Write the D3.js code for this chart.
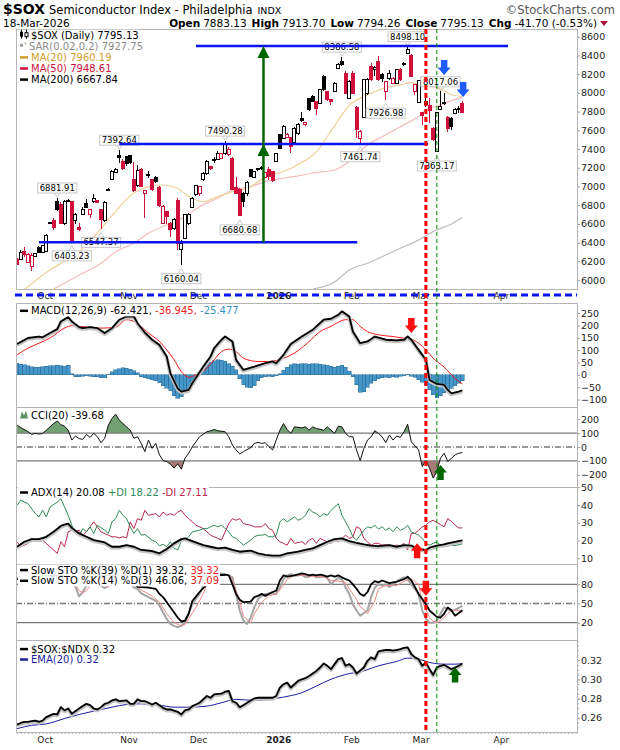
<!DOCTYPE html>
<html>
<head>
<meta charset="utf-8">
<script src="https://cdn.jsdelivr.net/npm/d3@7"></script>
<style>
  body { margin: 0; background: #fff; }
  svg { display: block; font-family: "DejaVu Sans", Verdana, sans-serif; }
</style>
</head>
<body>
<div id="chart"></div>
<script>
// ---- daily OHLC, 22-Sep-2025 .. 18-Mar-2026 (trading day index 0..122)
const openP = [6222,6222,6304,6190,6144,6255,6350,6295,6305,6610, 6635,6838,6810,6600,6850,6838,6636,6560,6706,6820,
  6706,6835,6850,6749,6636,6970,7070,7148,7330,7265, 7320,7326,7070,7006,7183,6927,7130,7070,7100,6991,
  6607,6730,6607,6553,6849,6330,6447,6600,6778,6910, 6920,7070,7134,7212,7290,7290,7300,7354,7337,7300,
  6991,6965,6928,6920,7177,7099,7195,7205,7099,7184, 7159,7266,7550,7515,7526,7526,7469,7561,7729,7662,
  7942,7960,7906,7889,8174,8013,7924,8013,8262,8334, 8209,7942,8209,7846,7515,7739,7990,8285,8245,8334,
  8200,8013,8156,8102,8102,8245,8298,8423,8395,8013, 7896,7789,7871,7860,7622,7373,7825,7900,7739,7729,
  7782,7835,7883.13];
const highP = [6233,6322,6358,6290,6285,6290,6360,6375,6490,6625, 6660,6882,6830,6860,6870,6845,6720,6607,6778,6863,
  6760,6917,6860,6760,6840,6985,7175,7200,7393,7290, 7330,7335,7265,7230,7200,6960,7160,7080,7110,7000,
  6800,6740,6620,6660,6874,6430,6700,6715,6890,7020, 7010,7150,7280,7220,7320,7380,7360,7490,7420,7320,
  7100,6980,6940,7060,7185,7170,7200,7215,7150,7212, 7170,7360,7560,7660,7570,7530,7640,7680,7800,7690,
  7950,7975,7915,8045,8190,8020,7930,8115,8320,8387, 8230,8140,8230,7860,7600,8150,8160,8320,8290,8390,
  8210,8130,8240,8170,8260,8270,8330,8498,8410,8095, 8140,7800,7940,7942,7630,7800,8017,7995,7750,7740,
  7835,7860,7913.70];
const lowP = [6160,6215,6250,6180,6100,6245,6285,6290,6300,6600, 6536,6740,6600,6590,6830,6403,6600,6528,6696,6767,
  6660,6828,6820,6547,6625,6955,7065,7140,7250,7180, 7220,7240,6945,6990,6990,6660,7090,6950,7040,6780,
  6600,6600,6464,6540,6322,6160,6440,6590,6770,6900, 6900,7060,7125,7180,7250,7280,7290,7340,7330,6960,
  6920,6681,6780,6900,7100,7090,7170,7180,7090,7070, 7050,7260,7400,7505,7520,7355,7460,7550,7693,7650,
  7810,7900,7764,7880,8020,7915,7870,8005,8255,8290, 7990,7930,7990,7515,7462,7730,7980,8130,8180,8130,
  8120,7927,8140,8090,8090,8130,8290,8415,8165,7978, 7890,7660,7850,7675,7490,7363,7818,7871,7586,7604,
  7770,7790,7794.26];
const closeP = [6172,6300,6278,6275,6268,6285,6290,6365,6480,6605, 6565,6750,6607,6838,6845,6410,6696,6542,6749,6778,
  6756,6867,6828,6642,6828,6958,7160,7183,7310,7195, 7250,7255,6956,7176,6998,6956,7120,6963,7050,6792,
  6785,6678,6536,6650,6386,6390,6696,6705,6874,7006, 7000,7134,7265,7190,7280,7354,7348,7460,7390,6970,
  6930,6690,6840,7042,7106,7159,7177,7190,7148,7106, 7063,7348,7408,7640,7558,7426,7622,7657,7704,7686,
  7818,7906,7835,8031,8035,7924,7907,8102,8298,8300, 7996,8120,7996,7604,7586,8138,8145,8140,8273,8138,
  8150,8120,8209,8156,8245,8138,8316,8458,8174,8085, 8131,7754,7907,7810,7497,7789,7853,7890,7622,7640,
  7825,7828,7795.13];

// moving averages: [day index, value]
const ma20 = [[2,5900],[9,6108],[14,6225],[18,6340],[23,6550],[27,6735],[32,6930],[36,6995],[40,7016],[44,6978],
  [47,6895],[51,6838],[55,6892],[59,6945],[64,7000],[68,7100],[73,7160],[77,7235],[82,7370],[87,7650],[91,7865],
  [96,7977],[100,8045],[105,8085],[108,8109],[110,8090],[114,8066],[117,8024],[119,7980],[122,7960]];
const ma50 = [[10,5905],[18,6073],[23,6180],[27,6304],[32,6393],[36,6500],[41,6589],[46,6678],[50,6785],[55,6874],
  [59,6963],[64,6998],[68,7052],[73,7088],[78,7120],[82,7150],[87,7176],[91,7266],[96,7444],[100,7532],[105,7639],
  [110,7750],[112,7817],[116,7871],[119,7917],[122,7949]];
const ma200 = [[81,5905],[87,5980],[91,6108],[96,6180],[100,6250],[105,6340],[110,6429],[114,6518],[119,6600],[122,6668]];

// MACD(12,26,9)
const macdLine = [[0,125],[3,149],[6,155],[7,152],[9,169],[11,185],[12,216],[14,234],[15,216],[17,193],[18,189],[20,193],
  [22,189],[24,169],[26,189],[28,223],[30,236],[32,236],[33,209],[35,171],[37,142],[39,121],[41,74],[42,6],[44,-55],
  [45,-68],[47,-61],[48,-34],[51,33],[53,74],[54,108],[56,142],[57,155],[59,135],[60,60],[62,20],[65,33],[68,47],
  [70,54],[71,47],[73,81],[75,125],[78,155],[81,182],[82,196],[84,223],[86,227],[88,243],[89,257],[91,236],[92,175],
  [94,128],[96,135],[98,155],[101,142],[104,139],[106,142],[107,155],[108,142],[110,101],[112,61],[113,-21],[115,-37],
  [117,-41],[118,-61],[119,-75],[121,-68],[122,-62.4]];
const macdSignal = [[0,81],[3,108],[6,128],[9,149],[13,189],[15,199],[17,196],[20,193],[23,189],[27,193],[30,223],
  [32,216],[34,196],[36,169],[39,135],[41,101],[43,61],[45,13],[47,-10],[49,0],[52,27],[54,61],[56,94],[58,104],
  [60,94],[62,67],[66,54],[69,54],[71,58],[73,67],[77,98],[80,135],[83,175],[86,196],[90,223],[92,223],[94,196],
  [96,175],[99,162],[103,155],[106,148],[108,144],[110,128],[112,101],[114,67],[117,31],[119,0],[121,-27],[122,-36.9]];
const macdHist = [47,43,40,36,32,30,30,33,34,36, 37,39,36,34,39,4,-7,-7,-5,-4, -6,-7,-8,-11,-12,3,12,20,25,28,
  26,22,17,8,-8,-12,-16,-19,-25,-32, -45,-55,-65,-85,-95,-88,-72,-58,-40,-15, 10,30,40,50,56,60,58,55,45,35,
  20,-15,-40,-50,-52,-45,-25,-12,-8,-5, -7,-3,5,18,30,40,44,42,44,45, 42,45,44,42,40,38,35,30,35,38,
  30,15,-8,-40,-70,-68,-50,-35,-25,-15, -12,-10,-11,-8,-10,-6,-4,3,-5,-10, -20,-30,-42,-60,-80,-92,-85,-72,-60,-55,
  -45,-35,-25];

// CCI(20)
const cci = [[0,157],[1,140],[3,110],[4,90],[5,98],[6,93],[7,98],[8,121],[9,145],[10,169],[11,188],[12,160],[13,150],
  [14,120],[15,50],[16,79],[17,60],[18,55],[19,90],[20,69],[21,98],[22,74],[23,31],[24,62],[25,157],[26,205],[27,236],
  [28,193],[30,145],[31,121],[32,62],[33,74],[34,26],[35,-33],[36,50],[37,-10],[38,26],[39,-57],[40,-98],[41,-105],
  [42,-124],[43,-152],[44,-121],[45,-160],[46,-81],[47,-45],[48,2],[49,38],[50,74],[52,110],[53,117],[54,126],
  [55,117],[57,110],[58,74],[59,14],[60,-21],[61,-50],[62,-33],[64,-5],[65,26],[66,33],[67,26],[68,31],[69,2],
  [70,-21],[71,50],[72,121],[73,169],[74,126],[75,98],[76,145],[78,138],[79,145],[80,121],[81,145],[82,133],[84,121],
  [85,145],[86,121],[87,98],[88,150],[89,145],[90,98],[91,74],[92,74],[93,-21],[94,-98],[95,-10],[96,50],[97,74],
  [98,117],[99,98],[100,74],[101,31],[102,86],[103,50],[104,79],[105,69],[106,110],[107,164],[108,38],[110,-21],
  [111,-140],[112,-98],[113,-152],[114,-224],[115,-176],[116,-81],[117,-45],[118,-105],[119,-81],[120,-57],[121,-45],
  [122,-39.7]];

// ADX(14), +DI, -DI
const adx = [[0,16.5],[2,19.3],[4,20.8],[6,20.8],[8,22.1],[10,24.9],[12,28.2],[13,29],[14,29.5],[15,27.1],[17,24],
  [19,22.1],[21,20.2],[24,18.9],[26,16.5],[28,16.5],[30,17.4],[32,16.5],[34,14.7],[37,14.1],[39,12.8],[41,15.2],
  [43,18.4],[45,20.8],[46,21.2],[48,19.7],[51,17.4],[53,16.5],[55,15.6],[57,16],[59,14.7],[61,13.7],[64,14.3],
  [66,12.8],[68,11.9],[70,11.5],[72,11.5],[74,12.8],[77,13.7],[79,14.7],[81,15.6],[83,17.4],[85,19.3],[87,20.8],
  [89,21.2],[91,19.7],[93,18.7],[95,17.8],[97,17.1],[99,16.9],[102,17.4],[104,16.5],[106,17.4],[108,17.1],[110,15.2],
  [112,14.7],[113,16],[115,17.1],[117,17.8],[118,18.4],[120,19.3],[122,20.1]];
const plusDI = [[0,39.8],[1,42.6],[3,40.7],[5,35.1],[6,33.3],[7,37],[8,33.3],[9,38.8],[11,41.6],[12,43.5],[13,38.8],
  [14,34.2],[15,28.6],[16,24],[17,23],[18,26.7],[19,24.9],[20,27.7],[21,24],[22,28.6],[24,25.8],[25,24],[26,30.5],
  [27,32.3],[28,37],[29,34.2],[30,32.3],[31,27.7],[32,24],[33,26.7],[34,23],[35,23.4],[37,20.2],[38,19.3],[39,17.1],
  [40,17.8],[41,16.5],[42,19.3],[43,15.6],[44,14.7],[45,19.7],[46,20.2],[47,22.1],[48,24.9],[50,25.8],[51,26.7],
  [52,26.7],[53,27.7],[54,28.6],[55,27.7],[56,28.6],[58,24.9],[59,22.1],[60,21.2],[61,19.3],[62,17.4],[64,20.2],
  [65,22.1],[66,23],[67,23],[68,23.4],[69,22.1],[70,22.1],[71,23],[72,30.5],[73,32.3],[74,30.5],[76,33.3],[77,31.4],
  [78,32.3],[79,34.2],[80,37.9],[81,36],[82,35.1],[83,33.3],[84,35.1],[85,34.2],[86,37],[87,38.8],[88,40.7],[89,34.2],
  [90,30.5],[91,26.7],[92,22.1],[93,20.2],[95,25.8],[96,27.7],[97,27.1],[98,28.6],[99,26.4],[100,27.7],[101,25.8],
  [102,27.1],[103,24.9],[104,27.7],[105,25.8],[106,26.7],[107,28.6],[108,24.9],[110,23],[111,21.2],[112,18.4],
  [113,17.4],[114,18.4],[115,19.3],[116,17.4],[117,16.5],[118,16.9],[119,17.4],[120,17.1],[122,18.2]];
const minusDI = [[0,19.3],[1,16.5],[3,18.4],[4,21.2],[5,20.2],[6,19.3],[7,20.2],[8,18.4],[9,16.5],[11,12.8],[12,19.3],
  [13,16.5],[14,24.9],[15,25.8],[16,24.9],[17,25.8],[18,23],[19,24.9],[20,27.7],[21,30.5],[22,27.7],[23,24.9],
  [25,23],[26,22.1],[27,22.1],[28,21.5],[29,22.1],[30,21.5],[31,30.5],[32,26.7],[33,32.3],[34,31.4],[35,37],
  [36,34.2],[38,35.1],[39,33.3],[40,36],[41,34.2],[42,35.1],[43,34.2],[44,36],[45,37],[46,34.2],[47,32.3],[48,30.5],
  [49,28.6],[51,26.7],[52,24.9],[53,23],[54,22.1],[55,21.2],[56,20.2],[57,24.9],[58,29.5],[59,32.3],[60,31.4],
  [61,32.3],[62,29.5],[64,28.6],[65,27.7],[66,27.7],[67,27.7],[68,29.5],[69,26.7],[70,25.8],[71,21.2],[72,19.3],
  [73,18.4],[74,17.4],[75,21.2],[76,18.4],[78,19.3],[79,17.8],[80,20.2],[81,21.2],[82,18.4],[83,21.2],[84,20.2],
  [85,19.3],[86,18.4],[87,20.2],[88,19.3],[90,23],[91,21.2],[92,22.1],[93,27.7],[94,26.7],[95,21.2],[96,19.3],
  [97,17.4],[98,18.4],[99,18.4],[100,17.4],[101,17.8],[103,16.9],[104,17.4],[105,16.9],[106,18.4],[107,14.7],
  [108,24],[109,24],[110,25.8],[111,27.7],[112,28.6],[113,30.5],[114,31.4],[116,29],[117,27.7],[118,32.3],[119,30.8],
  [120,28.6],[121,27.1],[122,27.1]];

// Slow stochastics
const stoK39 = [[0,88],[4,86],[8,92],[12,96],[15,84],[18,88],[22,92],[26,95],[29,96],[31,90],[33,76],[36,75],[38,73],
  [39,65],[40,60],[42,44],[44,28],[45,22],[46,23],[47,34],[48,54],[50,68],[52,80],[53,88],[55,94],[57,95],[58,94],
  [59,80],[60,65],[61,56],[62,52],[64,53],[65,60],[66,62],[67,65],[68,62],[69,65],[70,68],[71,70],[72,86],[73,94],
  [74,92],[76,94],[78,97],[79,96],[80,94],[81,95],[82,94],[83,95],[84,94],[85,92],[86,94],[87,92],[88,94],[90,88],
  [91,86],[92,80],[93,73],[94,65],[95,62],[96,68],[97,80],[98,85],[99,83],[100,86],[102,82],[103,83],[104,84],
  [105,86],[106,88],[107,92],[108,86],[109,76],[110,65],[111,57],[112,49],[113,39],[115,29],[116,28],[117,34],
  [118,44],[119,39],[120,31],[121,35],[122,39.3]];
const stoK14 = [[0,90],[3,86],[6,90],[9,94],[12,95],[14,88],[15,82],[16,76],[17,61],[18,68],[19,78],[20,86],[21,90],
  [22,86],[23,78],[24,74],[25,78],[27,88],[29,92],[31,82],[32,75],[33,73],[34,66],[36,60],[38,54],[39,47],[40,36],
  [41,26],[42,18],[43,15],[44,13],[45,15],[46,21],[47,34],[48,49],[50,65],[51,78],[52,88],[53,94],[54,96],[56,97],
  [58,94],[59,91],[60,65],[61,39],[62,23],[63,18],[64,28],[65,44],[66,57],[67,62],[68,65],[70,66],[71,65],[72,75],
  [73,88],[74,94],[75,96],[76,94],[77,94],[78,95],[79,91],[80,92],[81,94],[82,91],[84,92],[85,90],[86,80],[87,86],
  [88,90],[89,88],[90,75],[91,65],[92,49],[93,39],[94,31],[96,39],[97,60],[98,75],[99,80],[100,78],[101,80],[102,76],
  [103,80],[104,85],[105,88],[106,91],[107,88],[108,80],[110,65],[111,39],[112,26],[113,20],[114,20],[115,23],
  [116,34],[117,44],[118,41],[119,39],[120,40],[121,43],[122,46.1]];
const stoD3 = [[0,90],[3,88],[6,89],[9,92],[12,94],[15,87],[16,80],[17,70],[18,67],[19,70],[20,78],[21,86],[22,88],
  [23,84],[24,78],[25,76],[27,83],[29,89],[31,86],[33,75],[34,71],[37,62],[39,52],[41,34],[43,20],[45,15],[46,17],
  [47,26],[49,44],[51,65],[52,80],[54,90],[56,95],[58,95],[59,86],[61,54],[62,30],[64,20],[65,34],[67,52],[69,62],
  [71,65],[73,78],[74,88],[76,94],[78,94],[80,93],[82,92],[84,92],[86,86],[88,85],[90,83],[91,73],[93,57],[94,45],
  [95,41],[96,34],[98,54],[99,73],[101,78],[104,78],[106,85],[108,88],[110,80],[111,54],[113,28],[114,22],[115,20],
  [116,23],[118,34],[119,39],[121,39],[122,37.1]];

// $SOX:$NDX ratio and its EMA(20)
const ratio = [[0,.2530],[1,.2547],[2,.2558],[3,.2558],[4,.2565],[5,.2572],[6,.2558],[7,.2572],[8,.2607],[10,.2642],
  [11,.2635],[12,.2711],[13,.2677],[14,.2697],[15,.2642],[17,.2697],[18,.2722],[19,.2746],[20,.2732],[21,.2697],
  [22,.2687],[23,.2711],[24,.2746],[25,.2757],[26,.2781],[27,.2792],[28,.2774],[30,.2781],[31,.2746],[32,.2746],
  [33,.2792],[34,.2774],[35,.2774],[36,.2757],[37,.2739],[38,.2757],[39,.2732],[40,.2704],[41,.2687],[42,.2687],
  [44,.2663],[45,.2635],[46,.2677],[47,.2687],[48,.2722],[49,.2739],[50,.2757],[51,.2792],[52,.2827],[53,.2809],
  [54,.2844],[56,.2851],[57,.2872],[58,.2879],[59,.2774],[60,.2757],[61,.2711],[62,.2732],[63,.2757],[64,.2781],
  [65,.2802],[66,.2809],[67,.2809],[69,.2809],[70,.2809],[71,.2827],[72,.2914],[73,.2949],[74,.2966],[75,.2914],
  [76,.2949],[77,.2984],[78,.3001],[79,.3012],[80,.3036],[82,.3088],[83,.3123],[84,.3165],[85,.3141],[86,.3106],
  [87,.3158],[88,.3210],[89,.3221],[90,.3141],[91,.3158],[92,.3123],[93,.3060],[95,.3123],[96,.3193],[97,.3228],
  [98,.3210],[99,.3291],[100,.3298],[101,.3305],[102,.3305],[103,.3298],[104,.3305],[105,.3315],[106,.3326],
  [107,.3333],[108,.3263],[109,.3228],[110,.3210],[111,.3141],[112,.3176],[113,.3106],[114,.3046],[115,.3123],
  [116,.3141],[117,.3151],[119,.3106],[120,.3123],[121,.3141],[122,.3165]];
const ratioEma = [[0,.2488],[4,.2523],[8,.2537],[13,.2593],[17,.2635],[21,.2670],[26,.2711],[30,.2739],[34,.2746],
  [39,.2732],[43,.2711],[47,.2711],[52,.2722],[56,.2757],[60,.2792],[65,.2781],[69,.2792],[73,.2816],[78,.2861],
  [82,.2931],[86,.3001],[91,.3060],[95,.3088],[99,.3141],[104,.3186],[107,.3221],[110,.3210],[113,.3176],[117,.3158],
  [120,.3158],[122,.3165]];

// month ticks (day index of first session) and labels
const monthIdx = [7, 30, 49, 71, 91, 110, 132];
const monthLbl = ['Oct', 'Nov', 'Dec', '2026', 'Feb', 'Mar', 'Apr'];

// annotations
const peakLabels = [
  {i: 11, text: '6881.91', pos: 'above'}, {i: 15, text: '6403.23', pos: 'below'},
  {i: 23, text: '6547.37', pos: 'below'}, {i: 28, text: '7392.64', pos: 'above'},
  {i: 45, text: '6160.04', pos: 'below'}, {i: 57, text: '7490.28', pos: 'above'},
  {i: 61, text: '6680.68', pos: 'below'}, {i: 89, text: '8386.58', pos: 'above'},
  {i: 94, text: '7461.74', pos: 'below'}, {i: 101, text: '7926.98', pos: 'below'},
  {i: 107, text: '8498.10', pos: 'above'}, {i: 116, text: '8017.06', pos: 'above'},
  {i: 115, text: '7363.17', pos: 'below'}];
const levelLines = [{from: 49, to: 134.5, price: 8500}, {from: 28, to: 112.6, price: 7455}, {from: 6, to: 93.2, price: 6404}];
const riseArrow = {i: 67.5, base: 6404, mid: 7455, top: 8500};
const markers = [
  {panel: 'main', i: 117, v: 8190, dir: 'down', color: '#1f5cff'},
  {panel: 'main', i: 122.2, v: 7955, dir: 'down', color: '#1f5cff'},
  {panel: 'macd', i: 108, v: 169, dir: 'down', color: '#ff1010'},
  {panel: 'cci', i: 116, v: -129, dir: 'up', color: '#006600'},
  {panel: 'adx', i: 109.6, v: 18.4, dir: 'up', color: '#ff1010'},
  {panel: 'sto', i: 112, v: 62, dir: 'down', color: '#ff1010'},
  {panel: 'ratio', i: 120, v: 0.3123, dir: 'up', color: '#006600'}];
const redLineIdx = 112, greenLineIdx = 115;

// ---------------------------------------------------------------
const width = 620, height = 750, left = 16, right = 577;
const RED = '#d0103a';

const svg = d3.select('#chart').append('svg')
  .attr('width', width).attr('height', height)
  .attr('viewBox', [0, 0, width, height]);
svg.append('rect').attr('width', width).attr('height', height).attr('fill', '#fff');
const defs = svg.append('defs');

const x = d3.scaleLinear().domain([-0.3, 153.4]).range([left, right]);

const panels = {
  main: {top: 29, bottom: 289, y: d3.scaleLinear().domain([5905, 8682]).range([289, 29])},
  macd: {top: 303, bottom: 407, y: d3.scaleLinear().domain([-130.3, 290.7]).range([407, 303])},
  cci: {top: 407, bottom: 487, y: d3.scaleLinear().domain([-288, 288]).range([487, 407])},
  adx: {top: 487, bottom: 564, y: d3.scaleLinear().domain([6.8, 50.1]).range([564, 487])},
  sto: {top: 564, bottom: 640, y: d3.scaleLinear().domain([-7.1, 111.8]).range([640, 564])},
  ratio: {top: 640, bottom: 732, y: d3.scaleLinear().domain([0.2453, 0.3409]).range([732, 640])}
};

for (const [name, p] of Object.entries(panels)) {
  defs.append('clipPath').attr('id', 'clip-' + name)
    .append('rect').attr('x', left).attr('y', p.top).attr('width', right - left).attr('height', p.bottom - p.top);
  p.g = svg.append('g').attr('clip-path', `url(#clip-${name})`);
}

function rightAxis(p, ticks, fmt) {
  const g = svg.append('g').attr('transform', `translate(${right},0)`)
    .call(d3.axisRight(p.y).tickValues(ticks).tickSize(3).tickPadding(1).tickFormat(fmt));
  g.attr('font-family', null).attr('font-size', 9.5);
  g.select('.domain').remove();
  g.selectAll('line').attr('stroke', '#999');
  g.selectAll('text').attr('fill', '#222');
  return g;
}
rightAxis(panels.main, d3.range(6000, 8601, 200), d3.format('d'));
rightAxis(panels.macd, [-100, -50, 0, 50, 100, 150, 200, 250], d3.format('d'));
rightAxis(panels.cci, [-200, -100, 0, 100, 200], d3.format('d'));
rightAxis(panels.adx, [10, 20, 30, 40, 50], d3.format('d'));
rightAxis(panels.sto, [20, 50, 80], d3.format('d'));
rightAxis(panels.ratio, [0.26, 0.28, 0.30, 0.32], d3.format('.2f'));
svg.append('g').attr('transform', `translate(${right},0)`)
  .call(d3.axisRight(panels.ratio.y).tickValues(d3.range(0.25, 0.341, 0.005)).tickSize(2).tickFormat(''))
  .call(g => { g.select('.domain').remove(); g.selectAll('line').attr('stroke', '#aaa'); });

// month labels under the price panel and under the last panel
function monthAxis(yPos, pad) {
  const g = svg.append('g').attr('transform', `translate(0,${yPos})`)
    .call(d3.axisBottom(x).tickValues(monthIdx).tickSize(0).tickPadding(pad)
      .tickFormat((d, k) => monthLbl[k]));
  g.attr('font-family', null).attr('font-size', 9);
  g.select('.domain').remove();
  g.selectAll('text').attr('dx', 2).attr('fill', '#222')
    .attr('font-weight', (d, k) => monthLbl[k] === '2026' ? 'bold' : null);
}
monthAxis(289, 4);
monthAxis(732, 5);
svg.append('g').attr('transform', `translate(0,${panels.ratio.bottom})`)
  .call(d3.axisBottom(x).tickValues(d3.range(0, 154)).tickSize(2).tickFormat(''))
  .call(g => { g.select('.domain').remove(); g.selectAll('line').attr('stroke', '#aaa'); });

svg.append('line').attr('x1', left - 1).attr('x2', right).attr('y1', 295).attr('y2', 295)
  .attr('stroke', '#0a14f0').attr('stroke-width', 3).attr('stroke-dasharray', '7,4');

// ---- helpers
function drawLine(g, data, y, color, w, halo, curve) {
  const ln = d3.line().x(d => x(d[0])).y(d => y(d[1])).curve(curve || d3.curveLinear);
  if (halo) {
    g.append('path').attr('d', ln(data)).attr('fill', 'none').attr('stroke', '#c4c4c4')
      .attr('stroke-width', w + 2).attr('stroke-linejoin', 'round').attr('transform', 'translate(0,1)');
  }
  g.append('path').attr('d', ln(data)).attr('fill', 'none').attr('stroke', color)
    .attr('stroke-width', w).attr('stroke-linejoin', 'round');
}
function hline(p, v, dash) {
  p.g.append('line').attr('x1', left).attr('x2', right).attr('y1', p.y(v)).attr('y2', p.y(v))
    .attr('stroke', '#7a7a7a').attr('stroke-width', 1.3).attr('stroke-dasharray', dash || null);
}

// ---- price panel
const main = panels.main, ym = main.y;
drawLine(main.g, ma200, ym, '#bdbdbd', 1.2, false, d3.curveMonotoneX);
drawLine(main.g, ma50, ym, '#f5bcbc', 1.2, false, d3.curveMonotoneX);
drawLine(main.g, ma20, ym, '#f2cf98', 1.2, false, d3.curveMonotoneX);

const days = d3.range(openP.length);
const candleColor = i => (i === 0 ? closeP[i] >= openP[i] : closeP[i] >= closeP[i - 1]) ? '#000' : RED;
const candles = main.g.append('g').attr('shape-rendering', 'crispEdges');
candles.selectAll('line').data(days).join('line')
  .attr('x1', i => x(i)).attr('x2', i => x(i))
  .attr('y1', i => ym(highP[i])).attr('y2', i => ym(lowP[i]))
  .attr('stroke', candleColor);
candles.selectAll('rect').data(days).join('rect')
  .attr('x', i => x(i) - 1.5).attr('width', 3)
  .attr('y', i => ym(Math.max(openP[i], closeP[i])))
  .attr('height', i => Math.max(1, Math.abs(ym(openP[i]) - ym(closeP[i]))))
  .attr('fill', i => closeP[i] > openP[i] ? '#fff' : candleColor(i))
  .attr('stroke', candleColor);

// value flags on swing highs / lows
const flags = svg.append('g');
peakLabels.forEach(d => {
  const cx = x(d.i), g = flags.append('g');
  const box = g.append('rect'), tail = g.append('path');
  const t = g.append('text').attr('x', cx).attr('text-anchor', 'middle').attr('font-size', 8.5).text(d.text);
  const bw = t.node().getComputedTextLength() + 4, bh = 10;
  const top = d.pos === 'above' ? ym(highP[d.i]) - 4.5 - bh : ym(lowP[d.i]) + 8.5;
  box.attr('x', cx - bw / 2).attr('y', top).attr('width', bw).attr('height', bh)
    .attr('fill', '#fff').attr('stroke', '#c8c8c8');
  const ty = d.pos === 'above' ? top + bh : top, dy = d.pos === 'above' ? 4 : -5;
  tail.attr('d', `M${cx - 3},${ty}L${cx},${ty + dy}L${cx + 3},${ty}`).attr('fill', 'none').attr('stroke', '#c8c8c8');
  t.attr('y', top + 8);
});

// horizontal levels and the measured-move arrow
const ann = svg.append('g');
levelLines.forEach(d => ann.append('line')
  .attr('x1', x(d.from)).attr('x2', x(d.to)).attr('y1', ym(d.price)).attr('y2', ym(d.price))
  .attr('stroke', '#0a14f0').attr('stroke-width', 2.5));
ann.append('line').attr('x1', x(riseArrow.i)).attr('x2', x(riseArrow.i))
  .attr('y1', ym(riseArrow.base)).attr('y2', ym(riseArrow.top) + 6)
  .attr('stroke', '#006600').attr('stroke-width', 2.5);
[riseArrow.top, riseArrow.mid].forEach(v => {
  const cx = x(riseArrow.i), ty = ym(v);
  ann.append('path').attr('d', `M${cx},${ty}L${cx - 6},${ty + 12}L${cx + 6},${ty + 12}Z`).attr('fill', '#006600');
});

// ---- MACD
const macd = panels.macd;
macd.g.append('g').attr('shape-rendering', 'crispEdges').selectAll('rect').data(macdHist).join('rect')
  .attr('x', (d, i) => x(i) - 1.8).attr('width', 3.65)
  .attr('y', d => macd.y(Math.max(0, d))).attr('height', d => Math.abs(macd.y(d) - macd.y(0)))
  .attr('fill', '#4596c8').attr('stroke', '#2a6a96').attr('stroke-width', 0.5);
drawLine(macd.g, macdSignal, macd.y, '#ee1c1c', 1, false, d3.curveMonotoneX);
drawLine(macd.g, macdLine, macd.y, '#000', 1.8, true);

// ---- CCI
const cc = panels.cci;
defs.append('clipPath').attr('id', 'cci-up').append('rect')
  .attr('x', left).attr('y', cc.top).attr('width', right - left).attr('height', cc.y(100) - cc.top);
defs.append('clipPath').attr('id', 'cci-dn').append('rect')
  .attr('x', left).attr('y', cc.y(-100)).attr('width', right - left).attr('height', cc.bottom - cc.y(-100));
cc.g.append('path').attr('clip-path', 'url(#cci-up)').attr('fill', '#72a072')
  .attr('d', d3.area().x(d => x(d[0])).y0(cc.y(100)).y1(d => cc.y(d[1]))(cci));
cc.g.append('path').attr('clip-path', 'url(#cci-dn)').attr('fill', '#a97a7a')
  .attr('d', d3.area().x(d => x(d[0])).y0(cc.y(-100)).y1(d => cc.y(d[1]))(cci));
hline(cc, 100); hline(cc, -100); hline(cc, 0, '6,2,1,2');
drawLine(cc.g, cci, cc.y, '#111', 1, false);

// ---- ADX
const ad = panels.adx;
drawLine(ad.g, minusDI, ad.y, '#b8284e', 1, false);
drawLine(ad.g, plusDI, ad.y, '#2e8b57', 1, false);
drawLine(ad.g, adx, ad.y, '#000', 1.8, true);

// ---- Stochastics
const st = panels.sto;
hline(st, 80); hline(st, 20); hline(st, 50, '6,2,1,2');
drawLine(st.g, stoK14, st.y, '#a4a4a4', 2, false);
drawLine(st.g, stoD3, st.y, '#f08a8a', 1, false);
drawLine(st.g, stoK39, st.y, '#000', 1.8, false);

// ---- ratio
const ra = panels.ratio;
drawLine(ra.g, ratioEma, ra.y, '#1c1ca0', 1, false, d3.curveMonotoneX);
drawLine(ra.g, ratio, ra.y, '#000', 1.8, true);

// panel frames
for (const p of Object.values(panels)) {
  svg.append('rect').attr('x', left).attr('y', p.top).attr('width', right - left).attr('height', p.bottom - p.top)
    .attr('fill', 'none').attr('stroke', '#b4b4b4').attr('shape-rendering', 'crispEdges');
}

// ---- legends
function legend(y0, parts, icon, xText) {
  const g = svg.append('g');
  const bg = g.append('rect').attr('fill', '#fff');
  const tx = xText || 31;
  if (icon && icon.type === 'dash') {
    g.append('line').attr('x1', 20).attr('x2', 28).attr('y1', y0 - 3.5).attr('y2', y0 - 3.5)
      .attr('stroke', icon.color).attr('stroke-width', 2.5);
  } else if (icon && icon.type === 'square') {
    g.append('rect').attr('x', 20).attr('y', y0 - 6).attr('width', 3).attr('height', 3).attr('fill', '#999');
    g.append('rect').attr('x', 24.5).attr('y', y0 - 7.5).attr('width', 2).attr('height', 2).attr('fill', '#bbb');
  } else if (icon && icon.type === 'candle') {
    g.append('line').attr('x1', 21.5).attr('x2', 21.5).attr('y1', y0 - 9).attr('y2', y0).attr('stroke', '#000');
    g.append('rect').attr('x', 20).attr('y', y0 - 7).attr('width', 3).attr('height', 5).attr('fill', '#000');
    g.append('line').attr('x1', 26.5).attr('x2', 26.5).attr('y1', y0 - 9).attr('y2', y0).attr('stroke', '#000');
    g.append('rect').attr('x', 25).attr('y', y0 - 6).attr('width', 3).attr('height', 4).attr('fill', '#fff').attr('stroke', '#000');
  } else if (icon && icon.type === 'cci') {
    g.append('path').attr('d', `M20,${y0}L22,${y0 - 7}L24,${y0 - 3}L26,${y0 - 8}L28,${y0}Z`).attr('fill', '#5f8f5f');
  }
  const t = g.append('text').attr('x', tx).attr('y', y0).attr('font-size', 10);
  parts.forEach(p => t.append('tspan').attr('fill', p.c || '#000').text(p.t));
  const bb = t.node().getBBox();
  bg.attr('x', 18).attr('y', bb.y).attr('width', bb.x + bb.width - 18 + 1).attr('height', bb.height);
}
legend(38.7, [{t: '$SOX (Daily) 7795.13'}], {type: 'candle'});
legend(49.8, [{t: 'SAR(0.02,0.2) 7927.75', c: '#8c8c8c'}], {type: 'square'}, 29);
legend(60.9, [{t: 'MA(20) 7960.19', c: '#d39b2c'}], {type: 'dash', color: '#d39b2c'});
legend(72.0, [{t: 'MA(50) 7948.61', c: '#cc1040'}], {type: 'dash', color: '#cc1040'});
legend(83.1, [{t: 'MA(200) 6667.84'}], {type: 'dash', color: '#000'});
legend(314.3, [{t: 'MACD(12,26,9) -62.421,'}, {t: ' -36.945,', c: '#ee1c1c'}, {t: ' -25.477', c: '#3a90c4'}],
  {type: 'dash', color: '#000'});
legend(418.6, [{t: 'CCI(20) -39.68'}], {type: 'cci'});
legend(496, [{t: 'ADX(14) 20.08'}, {t: ' +DI 18.22', c: '#2e8b57'}, {t: ' -DI 27.11', c: '#b8284e'}],
  {type: 'dash', color: '#000'});
legend(573.6, [{t: 'Slow STO %K(39) %D(1) 39.32,'}, {t: ' 39.32', c: '#ee1c1c'}], {type: 'dash', color: '#000'});
legend(584.3, [{t: 'Slow STO %K(14) %D(3) 46.06,'}, {t: ' 37.09', c: '#ee1c1c'}], {type: 'dash', color: '#000'});
legend(652.6, [{t: '$SOX:$NDX 0.32'}], {type: 'dash', color: '#000'});
legend(663, [{t: 'EMA(20) 0.32', c: '#1c1ca0'}], {type: 'dash', color: '#1c1ca0'});

// ---- vertical event lines
svg.append('line').attr('x1', x(redLineIdx)).attr('x2', x(redLineIdx)).attr('y1', 29).attr('y2', 732)
  .attr('stroke', '#ff0000').attr('stroke-width', 3).attr('stroke-dasharray', '5,3');
svg.append('line').attr('x1', x(greenLineIdx)).attr('x2', x(greenLineIdx)).attr('y1', 29).attr('y2', 732)
  .attr('stroke', '#008800').attr('stroke-width', 1).attr('stroke-dasharray', '4,3');

// ---- block arrows
markers.forEach(m => {
  const cx = x(m.i), tip = panels[m.panel].y(m.v);
  const w = 13, h = 15, sw = 6.5, hh = 7.5, s = m.dir === 'down' ? -1 : 1;
  const pts = [[cx, tip], [cx - w / 2, tip + s * hh], [cx - sw / 2, tip + s * hh], [cx - sw / 2, tip + s * h],
    [cx + sw / 2, tip + s * h], [cx + sw / 2, tip + s * hh], [cx + w / 2, tip + s * hh]];
  svg.append('path').attr('d', d3.line()(pts) + 'Z').attr('fill', m.color);
});

// ---- header
const h1 = svg.append('text').attr('x', 3).attr('y', 13.5).attr('fill', '#000');
h1.append('tspan').attr('font-size', 14).attr('font-weight', 'bold').text('$SOX');
h1.append('tspan').attr('font-size', 11.5).attr('dx', 4).text('Semiconductor Index - Philadelphia');
h1.append('tspan').attr('font-size', 9.5).attr('dx', 5).text('INDX');
svg.append('text').attr('x', 615).attr('y', 13.5).attr('text-anchor', 'end')
  .attr('font-size', 11.5).attr('fill', '#555').text('©StockCharts.com');
svg.append('text').attr('x', 3).attr('y', 27).attr('font-size', 10.5).text('18-Mar-2026');
const h2 = svg.append('text').attr('x', 597).attr('y', 27).attr('font-size', 10.5).attr('text-anchor', 'end');
[['Open', '7883.13'], ['High', '7913.70'], ['Low', '7794.26'], ['Close', '7795.13'], ['Chg', '-41.70 (-0.53%)']]
  .forEach((d, k) => {
    h2.append('tspan').attr('font-weight', 'bold').attr('dx', k ? 5 : 0).text(d[0]);
    h2.append('tspan').attr('dx', 3).text(d[1]);
  });
svg.append('path').attr('d', 'M600,21L608,21L604,26Z').attr('fill', '#b0103a');
</script>
</body>
</html>
